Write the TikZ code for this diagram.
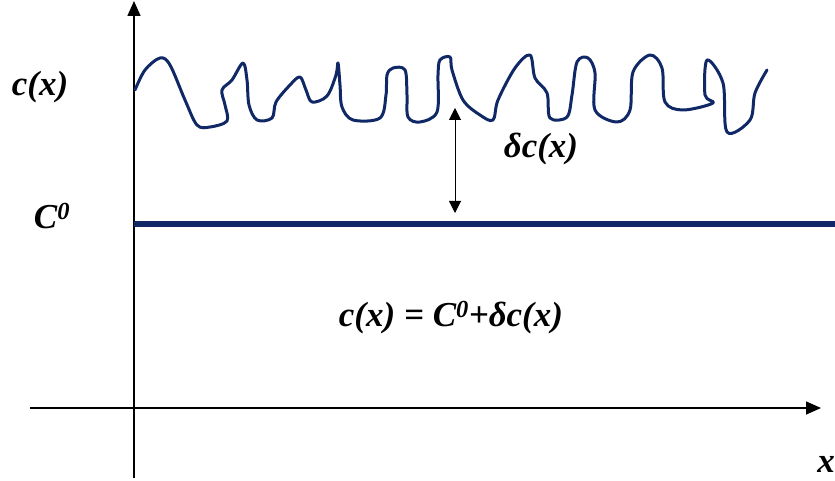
\documentclass[tikz,border=0pt]{standalone}
\usepackage{fontspec}
\setmainfont{Liberation Serif}
\usetikzlibrary{arrows.meta}
\definecolor{navy}{RGB}{16,40,102}
\tikzset{
  axis/.style={line width=1.6pt,-{Triangle[length=15pt,width=13pt]}},
  lbl/.style={font=\bfseries\itshape\fontsize{35}{40}\selectfont,inner sep=0pt},
}
\begin{document}
\begin{tikzpicture}[x=1pt,y=-1pt]
\useasboundingbox (0,0) rectangle (835,481);
\coordinate (yb) at (134,478);
\coordinate (yt) at (134,1);
\coordinate (xl) at (30,408);
\coordinate (xr) at (821,408);
\draw[axis] (yb) -- (yt);
\draw[axis] (xl) -- (xr);
\coordinate (h1) at (134,224);
\coordinate (h2) at (835,224);
\draw[navy,line width=5pt] (h1) -- (h2);
\draw[navy,line width=3pt,line cap=round,line join=round] plot[smooth,tension=0.55] coordinates {
(135,90) (145,70) (160,58) (170,65) (185,100) (197,125) (210,127) (227,121) (225,105) (222,90) (232,80) (243,63) (247,80) (249,105) (257,120) (272,118) (276,102) (290,85) (300,77) (306,90) (312,102) (327,96) (336,75) (338,63) (340,85) (342,107) (353,120) (380,118) (386,95) (387,75) (393,68) (405,70) (407,95) (408,117) (420,122) (437,112) (438,75) (440,60) (450,57) (452,70) (463,100) (480,115) (493,120) (498,100) (515,68) (530,55) (535,78) (547,93) (550,118) (567,117) (572,95) (577,62) (588,58) (595,73) (595,110) (617,122) (630,110) (633,72) (650,55) (662,68) (665,102) (683,110) (713,103) (705,95) (707,60) (723,83) (727,132) (750,120) (755,93) (767,70)};
\coordinate (a1) at (455,108);
\coordinate (a2) at (455,213);
\draw[line width=1pt,{Triangle[length=12pt,width=12pt]}-{Triangle[length=12pt,width=12pt]}] (a1) -- (a2);
\node[lbl] (cx) at (40,87) {c(x)};
\node[lbl] (c0) at (52,216) {C\textsuperscript{0}};
\node[lbl] (dc) at (541,149) {δc(x)};
\node[lbl] (eq) at (451,318) {c(x) = C\textsuperscript{0}+δc(x)};
\node[lbl] (xx) at (826,464) {x};
\end{tikzpicture}
\end{document}
